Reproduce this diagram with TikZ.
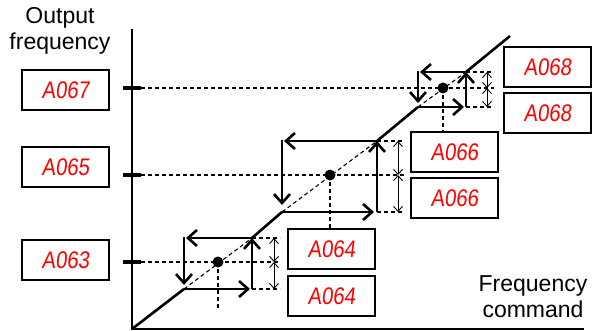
\documentclass[tikz,border=0pt]{standalone}
\usepackage{fontspec}
\setmainfont{Liberation Sans}
\newfontfamily\ledfont{Liberation Sans}[FakeStretch=0.85,FakeSlant=0.12]
\usetikzlibrary{arrows.meta}
\tikzset{
  stair/.style={line width=2.6pt},
  stairarrow/.style={line width=2.6pt,-{Straight Barb[length=9pt,width=16pt,line width=2.6pt]}},
  axisline/.style={line width=2.6pt},
  tickmark/.style={line width=4pt},
  guide/.style={line width=1.1pt,dash pattern=on 4pt off 3pt},
  dimarrow/.style={line width=0.9pt,{Straight Barb[length=5pt,width=9pt]}-{Straight Barb[length=5pt,width=9pt]}},
  ledbox/.style={draw,line width=2pt,fill=white,minimum width=87pt,minimum height=40pt,inner sep=0pt,
    font=\ledfont\fontsize{24}{24}\selectfont,text=red},
  axislabel/.style={align=center,inner sep=0pt,font=\fontsize{23}{26}\selectfont}
}
\begin{document}
\begin{tikzpicture}[x=1pt,y=-1pt]
\useasboundingbox (0,0) rectangle (592,331);
% key points
\coordinate (O) at (132,329);
\coordinate (Ytop) at (132,29);
\coordinate (Xend) at (584,329);
\coordinate (LL1) at (184,289);
\coordinate (UR1) at (252,238);
\coordinate (LL2) at (282,212);
\coordinate (UR2) at (377,141);
\coordinate (LL3) at (418,107);
\coordinate (UR3) at (466,72);
\coordinate (T) at (510,36);
\coordinate (D1) at (218,262);
\coordinate (D2) at (330,175);
\coordinate (D3) at (443,88);
% labels
\node[axislabel] (ylab) at (60,31) {Output\\frequency};
\node[axislabel] (xlab) at (533,297) {Frequency\\command};
% boxes
\node[ledbox] (b67) at (65.5,90) {A067};
\node[ledbox] (b65) at (65.5,167) {A065};
\node[ledbox] (b63) at (65.5,260) {A063};
\node[ledbox] (b68a) at (547.5,67) {A068};
\node[ledbox] (b68b) at (547.5,113.5) {A068};
\node[ledbox] (b66a) at (454.5,152.5) {A066};
\node[ledbox] (b66b) at (454.5,198.5) {A066};
\node[ledbox] (b64a) at (331.5,249) {A064};
\node[ledbox] (b64b) at (331.5,296) {A064};
% guide coordinates
\coordinate (t1) at (141,262); \coordinate (t1l) at (123,262);
\coordinate (t2) at (141,175); \coordinate (t2l) at (123,175);
\coordinate (t3) at (141,88);  \coordinate (t3l) at (123,88);
\coordinate (e1t) at (280,238); \coordinate (e1m) at (280,262); \coordinate (e1b) at (280,289);
\coordinate (e2t) at (404,141); \coordinate (e2m) at (404,175); \coordinate (e2b) at (404,212);
\coordinate (e3t) at (494,72);  \coordinate (e3m) at (494,88);  \coordinate (e3b) at (494,107);
\coordinate (d1t) at (274,238); \coordinate (d1m) at (274,262); \coordinate (d1b) at (274,289);
\coordinate (d2t) at (398,141); \coordinate (d2m) at (398,175); \coordinate (d2b) at (398,212);
\coordinate (d3t) at (487,72);  \coordinate (d3m) at (487,88);  \coordinate (d3b) at (487,107);
\coordinate (v1) at (218,308);
\coordinate (LR1) at (252,289); \coordinate (LR2) at (377,212); \coordinate (LR3) at (466,107);
\coordinate (r1) at (250,289); \coordinate (r2) at (374,212); \coordinate (r3) at (464,107);
\coordinate (l1) at (186,238); \coordinate (l2) at (284,141); \coordinate (l3) at (420,72);
\coordinate (u1) at (184,236.7); \coordinate (u2) at (282,139.7); \coordinate (u3) at (418,70.7);
\coordinate (dn1) at (184,285); \coordinate (dn2) at (282,205); \coordinate (dn3) at (418,103);
% dashed guides
\draw[guide] (t1) -- (e1m);
\draw[guide] (t2) -- (e2m);
\draw[guide] (t3) -- (e3m);
\draw[guide] (UR1) -- (e1t) (LR1) -- (e1b);
\draw[guide] (UR2) -- (e2t) (LR2) -- (e2b);
\draw[guide] (UR3) -- (e3t) (LR3) -- (e3b);
\draw[guide] (LL1) -- (UR1);
\draw[guide] (LL2) -- (UR2);
\draw[guide] (LL3) -- (UR3);
\draw[guide] (D1) -- (v1);
\draw[guide] (D2) -- (b64a.north -| D2);
\draw[guide] (D3) -- (b66a.north -| D3);
% dimension arrows
\draw[dimarrow] (d1t) -- (d1m); \draw[dimarrow] (d1m) -- (d1b);
\draw[dimarrow] (d2t) -- (d2m); \draw[dimarrow] (d2m) -- (d2b);
\draw[dimarrow] (d3t) -- (d3m); \draw[dimarrow] (d3m) -- (d3b);
% axes
\draw[axisline] (Ytop) -- (O) -- (Xend);
\draw[tickmark] (t1l) -- (t1);
\draw[tickmark] (t2l) -- (t2);
\draw[tickmark] (t3l) -- (t3);
% staircase
\draw[stair] (O) -- (LL1);
\draw[stair] (UR1) -- (LL2);
\draw[stair] (UR2) -- (LL3);
\draw[stair] (UR3) -- (T);
\draw[stairarrow] (LL1) -- (r1);
\draw[stairarrow] (LL2) -- (r2);
\draw[stairarrow] (LL3) -- (r3);
\draw[stairarrow] (LR1) -- (UR1);
\draw[stairarrow] (LR2) -- (UR2);
\draw[stairarrow] (LR3) -- (UR3);
\draw[stairarrow] (UR1) -- (l1);
\draw[stairarrow] (UR2) -- (l2);
\draw[stairarrow] (UR3) -- (l3);
\draw[stairarrow] (u1) -- (dn1);
\draw[stairarrow] (u2) -- (dn2);
\draw[stairarrow] (u3) -- (dn3);
% dots
\fill (D1) circle (5.5pt);
\fill (D2) circle (5.5pt);
\fill (D3) circle (5.5pt);
\end{tikzpicture}
\end{document}
